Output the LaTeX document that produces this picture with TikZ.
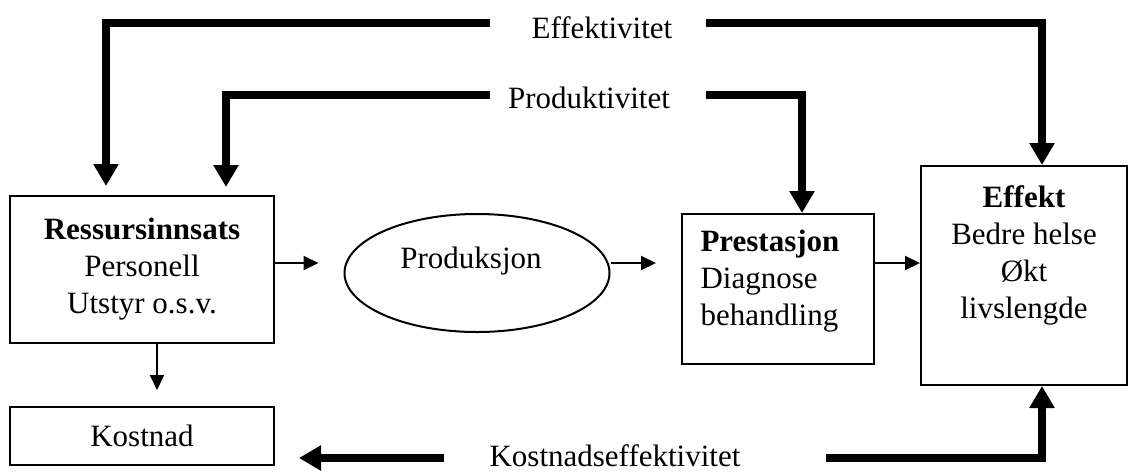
\documentclass[tikz,border=0pt]{standalone}
\usepackage{fontspec}
\setmainfont{Liberation Serif}
\usetikzlibrary{arrows.meta,shapes.geometric}

\tikzset{
  every node/.style={font=\fontsize{31}{37}\selectfont},
  box/.style={draw, line width=2pt, inner sep=0pt, align=center},
  thin arrow/.style={line width=2pt, -{Triangle[width=14pt,length=15pt]}},
  thick arrow/.style={line width=8pt, -{Triangle[width=24pt,length=22pt]}}
}

\begin{document}
\begin{tikzpicture}[x=1pt,y=-1pt]
  \useasboundingbox (0,0) rectangle (1129,472);
  % boxes
  \node[box, minimum width=264pt, minimum height=147pt] (ress) at (142,269.5)
    {\textbf{Ressursinnsats}\\Personell\\Utstyr o.s.v.};
  \node[box, minimum width=264pt, minimum height=58pt] (kost) at (142,436) {Kostnad};
  \node[box, ellipse, minimum width=265pt, minimum height=118pt,
    label={[xshift=-6pt,yshift=12pt]center:Produksjon}] (prod) at (477,273) {};
  \node[box, minimum width=192pt, minimum height=150pt,
    label={[yshift=8pt,align=left,text width=155pt]center:{\textbf{Prestasjon}\\Diagnose\\behandling}}]
    (prest) at (778,289) {};
  \node[box, minimum width=206pt, minimum height=219pt,
    label={[yshift=20pt,align=center]center:{\textbf{Effekt}\\Bedre helse\\Økt\\livslengde}}]
    (eff) at (1024,275.5) {};
  % labels on the feedback lines
  \node (effl) at (602,28) {Effektivitet};
  \node (prodl) at (589,98) {Produktivitet};
  \node (kostl) at (615,456) {Kostnadseffektivitet};
  \coordinate (effL) at (490,23);
  \coordinate (effR) at (706,23);
  \coordinate (prodL) at (490,95);
  \coordinate (prodR) at (706,95);
  \coordinate (kostL) at (444,458);
  \coordinate (kostR) at (826,458);
  \coordinate (mid) at (0,263);
  % thick arrows
  \draw[thick arrow, shorten >=9pt] (effL) -| ([xshift=-36pt]ress.north);
  \draw[thick arrow] (effR) -| ([xshift=18pt]eff.north);
  \draw[thick arrow, shorten >=8pt] (prodL) -| ([xshift=84pt]ress.north);
  \draw[thick arrow] (prodR) -| ([xshift=24pt]prest.north);
  \draw[thick arrow, shorten >=24pt] (kostL) -- (kostL -| kost.east);
  \draw[thick arrow] (kostR) -| ([xshift=18pt]eff.south);
  % thin arrows
  \draw[thin arrow, shorten >=25pt] (ress.east |- mid) -- (prod.west |- mid);
  \draw[thin arrow, shorten >=25pt] (prod.east |- mid) -- (prest.west |- mid);
  \draw[thin arrow] (prest.east |- mid) -- (eff.west |- mid);
  \draw[thin arrow, shorten >=16pt] ([xshift=15pt]ress.south) -- ([xshift=15pt]kost.north);
\end{tikzpicture}
\end{document}
